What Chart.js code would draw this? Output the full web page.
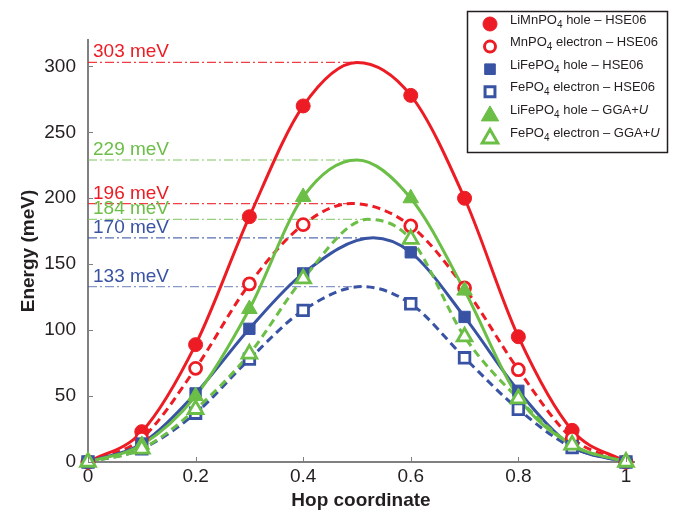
<!DOCTYPE html>
<html>
<head>
<meta charset="utf-8">
<script src="https://cdn.jsdelivr.net/npm/chart.js@4.4.1/dist/chart.umd.min.js"></script>
<style>
  html, body { margin: 0; padding: 0; background: #fff; }
</style>
</head>
<body>
<canvas id="myChart" width="674" height="513"></canvas>
<script>
// hop coordinates where markers were computed (no marker at 0.5)
var hop = [0, 0.1, 0.2, 0.3, 0.4, 0.6, 0.7, 0.8, 0.9, 1];

// energies in meV
var mnHoleHse     = [0, 23, 89, 186, 270, 278, 200, 95, 24, 0];
var mnElectronHse = [0, 18, 71, 135, 180, 179, 132, 70, 18, 0];
var feHoleHse     = [0, 14, 52, 101, 143, 159, 110, 54, 12, 0];
var feElectronHse = [0, 10, 37, 78, 115, 120, 79, 40, 11, 0];
var feHoleGga     = [0, 13, 50, 116, 201, 200, 130, 49, 13, 0];
var feElectronGga = [0, 10, 40, 82, 139, 169, 95, 48, 13, 0];

// barrier tops of the fitted curves
var peakHop    = [0.5, 0.49, 0.53, 0.51, 0.5, 0.52];
var peakEnergy = [303, 196, 170, 133, 229, 184];

var seriesLabels = [
    "LiMnPO_4 hole \u2013 HSE06",
    "MnPO_4 electron \u2013 HSE06",
    "LiFePO_4 hole \u2013 HSE06",
    "FePO_4 electron \u2013 HSE06",
    "LiFePO_4 hole \u2013 GGA+*U*",
    "FePO_4 electron \u2013 GGA+*U*"
];

var xTicks = [0, 0.2, 0.4, 0.6, 0.8, 1];
var yTicks = [0, 50, 100, 150, 200, 250, 300];

var energies = [mnHoleHse, mnElectronHse, feHoleHse, feElectronHse, feHoleGga, feElectronGga];

var RED = '#ED1C24', BLUE = '#3953A4', GREEN = '#6BBE46';
var colors = [RED, RED, BLUE, BLUE, GREEN, GREEN];
var refColors = ['rgba(237,28,36,0.85)', 'rgba(237,28,36,0.85)', 'rgba(57,83,164,0.85)',
                 'rgba(57,83,164,0.6)', 'rgba(107,190,70,0.85)', 'rgba(107,190,70,0.7)'];
var shapes = ['circle', 'circle', 'rect', 'rect', 'triangle', 'triangle'];
var filled = [true, false, true, false, true, false];
var radii = [7, 6, 8, 7.5, 9, 8.5];
var legendRadii = [7, 5.5, 7.5, 7, 10, 9];
var FONT = '"Liberation Sans", Arial, Helvetica, sans-serif';
var TEXT = '#231F20';
var AXIS = '#808080';

function curvePoints(s) {
    var pts = hop.map(function(x, i) { return {x: x, y: energies[s][i]}; });
    pts.push({x: peakHop[s], y: peakEnergy[s]});
    pts.sort(function(a, b) { return a.x - b.x; });
    return pts;
}

var datasets = [];
for (var s = 0; s < energies.length; s++) {
    // dash-dot guide at the barrier height
    datasets.push({
        data: [{x: 0, y: peakEnergy[s]}, {x: peakHop[s], y: peakEnergy[s]}],
        borderColor: refColors[s],
        borderWidth: 1.2,
        borderDash: [9, 3, 2, 3],
        pointRadius: 0,
        order: 30
    });
    // fitted curve
    datasets.push({
        data: curvePoints(s),
        borderColor: colors[s],
        borderWidth: 3,
        borderDash: filled[s] ? [] : [8, 5],
        cubicInterpolationMode: 'monotone',
        pointRadius: 0,
        order: 20 - s
    });
    // computed points
    datasets.push({
        data: hop.map(function(x, i) { return {x: x, y: energies[s][i]}; }),
        showLine: false,
        pointStyle: shapes[s],
        pointRadius: radii[s],
        pointBackgroundColor: filled[s] ? colors[s] : '#ffffff',
        pointBorderColor: colors[s],
        pointBorderWidth: filled[s] ? 1 : 2.8,
        clip: false,
        order: 10 - s
    });
}

function drawMarker(ctx, shape, x, y, r, color, solid) {
    ctx.save();
    ctx.beginPath();
    if (shape === 'circle') {
        ctx.arc(x, y, r, 0, Math.PI * 2);
    } else if (shape === 'rect') {
        var h = r * Math.SQRT1_2;
        ctx.rect(x - h, y - h, 2 * h, 2 * h);
    } else {
        ctx.moveTo(x, y - r);
        ctx.lineTo(x + r * 0.866, y + r * 0.5);
        ctx.lineTo(x - r * 0.866, y + r * 0.5);
        ctx.closePath();
    }
    ctx.fillStyle = solid ? color : '#ffffff';
    ctx.fill();
    ctx.lineWidth = solid ? 1 : 3;
    ctx.strokeStyle = color;
    ctx.stroke();
    ctx.restore();
}

// label with _4 as subscript and *U* in italics
function drawRichText(ctx, text, x, y, size) {
    var parts = text.split(/(_\d|\*[^*]+\*)/);
    ctx.textBaseline = 'alphabetic';
    ctx.textAlign = 'left';
    parts.forEach(function(p) {
        if (!p) return;
        if (p.charAt(0) === '_') {
            ctx.font = Math.round(size * 0.75) + 'px ' + FONT;
            ctx.fillText(p.substr(1), x, y + 4);
            x += ctx.measureText(p.substr(1)).width;
        } else if (p.charAt(0) === '*') {
            ctx.font = 'italic ' + size + 'px ' + FONT;
            ctx.fillText(p.slice(1, -1), x, y);
            x += ctx.measureText(p.slice(1, -1)).width;
        } else {
            ctx.font = size + 'px ' + FONT;
            ctx.fillText(p, x, y);
            x += ctx.measureText(p).width;
        }
    });
}

var decorations = {
    id: 'decorations',
    afterDraw: function(chart) {
        var ctx = chart.ctx;
        var xs = chart.scales.x, ys = chart.scales.y;
        var area = chart.chartArea;

        // inward tick marks
        ctx.save();
        ctx.strokeStyle = AXIS;
        ctx.lineWidth = 1;
        xTicks.forEach(function(v) {
            var px = Math.round(xs.getPixelForValue(v)) + 0.5;
            ctx.beginPath();
            ctx.moveTo(px, area.bottom);
            ctx.lineTo(px, area.bottom - 5);
            ctx.stroke();
        });
        yTicks.forEach(function(v) {
            var py = Math.round(ys.getPixelForValue(v)) + 0.5;
            ctx.beginPath();
            ctx.moveTo(area.left, py);
            ctx.lineTo(area.left + 5, py);
            ctx.stroke();
        });
        ctx.restore();

        // barrier labels
        ctx.save();
        ctx.font = '19px ' + FONT;
        ctx.textAlign = 'left';
        ctx.textBaseline = 'alphabetic';
        for (var s = 0; s < peakEnergy.length; s++) {
            ctx.fillStyle = colors[s];
            ctx.fillText(peakEnergy[s] + ' meV', xs.getPixelForValue(0) + 5, ys.getPixelForValue(peakEnergy[s]) - 5);
        }
        ctx.restore();

        // legend box
        ctx.save();
        ctx.fillStyle = '#ffffff';
        ctx.fillRect(467, 11, 201, 141);
        ctx.strokeStyle = TEXT;
        ctx.lineWidth = 1.5;
        ctx.strokeRect(467.5, 11.5, 200, 141);
        for (var i = 0; i < seriesLabels.length; i++) {
            var cy = 24 + i * 22.6;
            var my = shapes[i] === 'triangle' ? cy + 1.5 : cy;
            drawMarker(ctx, shapes[i], 490, my, legendRadii[i], colors[i], filled[i]);
            ctx.fillStyle = TEXT;
            drawRichText(ctx, seriesLabels[i], 510, cy - 0.5, 13);
        }
        ctx.restore();
    }
};

new Chart(document.getElementById('myChart'), {
    type: 'line',
    data: { datasets: datasets },
    options: {
        responsive: false,
        animation: false,
        devicePixelRatio: 1,
        layout: { padding: { top: 40, right: 40, left: 0, bottom: 0 } },
        plugins: { legend: { display: false }, tooltip: { enabled: false } },
        scales: {
            x: {
                type: 'linear',
                min: 0,
                max: 1.015,
                afterBuildTicks: function(scale) {
                    scale.ticks = xTicks.map(function(v) { return {value: v}; });
                },
                afterFit: function(scale) { scale.height = 51; },
                grid: { display: true, drawOnChartArea: false, drawTicks: false },
                border: { display: true, color: AXIS, width: 2 },
                ticks: {
                    padding: 3,
                    color: TEXT,
                    font: { family: FONT, size: 19 },
                    callback: function(v) { return String(Math.round(v * 10) / 10); }
                },
                title: {
                    display: true,
                    text: 'Hop coordinate',
                    color: TEXT,
                    font: { family: FONT, size: 19, weight: 'bold' },
                    padding: { top: 0, bottom: 1 }
                }
            },
            y: {
                type: 'linear',
                min: 0,
                max: 320,
                afterBuildTicks: function(scale) {
                    scale.ticks = yTicks.map(function(v) { return {value: v}; });
                },
                afterFit: function(scale) { scale.width = 88; },
                grid: { display: true, drawOnChartArea: false, drawTicks: false },
                border: { display: true, color: AXIS, width: 2 },
                ticks: {
                    padding: 12,
                    color: TEXT,
                    font: { family: FONT, size: 19 }
                },
                title: {
                    display: true,
                    text: 'Energy (meV)',
                    color: TEXT,
                    font: { family: FONT, size: 19, weight: 'bold' },
                    padding: { top: 17, bottom: 0 }
                }
            }
        }
    },
    plugins: [decorations]
});
</script>
</body>
</html>
